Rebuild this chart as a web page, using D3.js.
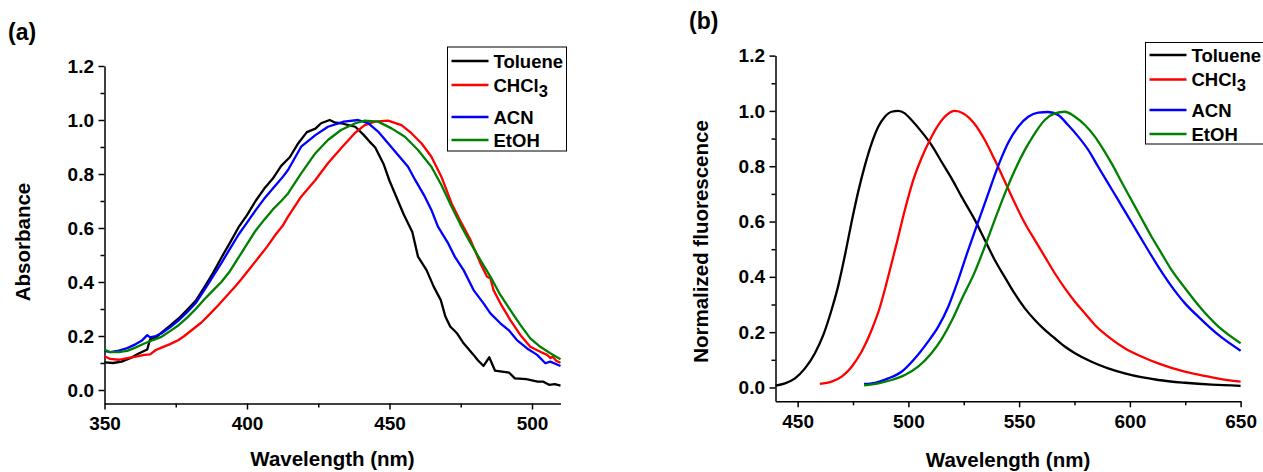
<!DOCTYPE html>
<html>
<head>
<meta charset="utf-8">
<script src="https://cdn.jsdelivr.net/npm/d3@7"></script>
<style>
  body { margin: 0; background: #fff; }
  svg { display: block; font-family: Arial, "Liberation Sans", sans-serif; font-weight: bold; }
  .axis path, .axis line { stroke: #000; stroke-width: 1.5; }
  .axis text { font-size: 19px; font-weight: bold; fill: #000; font-family: Arial, "Liberation Sans", sans-serif; }
</style>
</head>
<body>
<svg id="chart" width="1263" height="472"></svg>
<script>
// series names + colours (same for both panels)
const solvents = ["Toluene", "CHCl3", "ACN", "EtOH"];
const colours = ["#000000", "#ff0000", "#0000ff", "#008000"];

// (a) absorbance, [wavelength nm, absorbance]
const absToluene = [[350,0.102],[353,0.100],[356,0.105],[359,0.118],[362,0.135],[365,0.150],[366,0.188],[368,0.195],[370,0.212],[373,0.238],[376,0.265],[379,0.297],[382,0.330],[385,0.380],[388,0.432],[391,0.490],[394,0.545],[397,0.602],[400,0.648],[403,0.700],[406,0.745],[409,0.782],[412,0.830],[415,0.862],[418,0.914],[421,0.955],[424,0.968],[426,0.988],[429,1.000],[431,0.990],[433,0.988],[436,0.980],[438,0.975],[441,0.944],[443,0.920],[445,0.898],[448,0.835],[450,0.775],[452,0.725],[455,0.650],[458,0.585],[460,0.494],[463,0.444],[465.5,0.383],[468,0.333],[469.6,0.272],[471.3,0.235],[473.7,0.210],[476,0.173],[479.5,0.130],[481,0.110],[483,0.089],[485,0.121],[487,0.072],[489.5,0.068],[492,0.064],[494,0.043],[498,0.040],[502,0.031],[504,0.031],[506,0.019],[508,0.022],[510,0.016]];
const absChcl3 = [[350,0.125],[352,0.115],[355,0.112],[358,0.118],[361,0.124],[364,0.130],[366,0.132],[368,0.148],[370,0.157],[373,0.170],[376,0.185],[378,0.200],[381,0.225],[384,0.250],[387,0.282],[390,0.315],[393,0.350],[396,0.385],[398,0.410],[401,0.450],[404,0.490],[407,0.530],[410,0.575],[412.5,0.608],[414.4,0.642],[419,0.716],[424,0.778],[428.4,0.840],[433,0.895],[437.8,0.951],[441.3,0.981],[444.8,0.994],[449.5,0.998],[454.2,0.981],[457.7,0.951],[461.2,0.914],[464.7,0.864],[468.2,0.790],[471.8,0.691],[475.3,0.617],[478.4,0.556],[481.9,0.469],[484.2,0.420],[485.4,0.414],[486.5,0.370],[488.9,0.321],[492.4,0.259],[495.9,0.204],[499.4,0.160],[502.9,0.142],[505.3,0.130],[506.5,0.118],[507.2,0.124],[508.5,0.108],[510,0.101]];
const absAcn = [[350,0.145],[352,0.140],[355,0.146],[358,0.155],[361,0.170],[363,0.182],[365,0.203],[366,0.195],[368,0.200],[370,0.210],[373,0.232],[376,0.258],[379,0.288],[382,0.322],[385,0.370],[388,0.420],[391,0.470],[394,0.523],[397,0.575],[400,0.620],[403,0.665],[406,0.708],[409,0.745],[412,0.782],[414.4,0.815],[419,0.901],[424,0.944],[428.4,0.975],[434,0.994],[439,1.000],[442.5,0.988],[446,0.957],[449.5,0.914],[453,0.870],[456.5,0.827],[459,0.778],[462.4,0.716],[464.7,0.667],[467,0.605],[470.6,0.543],[472.9,0.494],[476,0.444],[479.5,0.370],[483,0.321],[485.4,0.284],[488.9,0.247],[491.8,0.222],[494.7,0.185],[498.3,0.154],[501.8,0.130],[504.7,0.099],[506.4,0.105],[510,0.089]];
const absEtoh = [[350,0.150],[352,0.140],[355,0.140],[358,0.145],[361,0.158],[364,0.172],[367,0.185],[370,0.197],[373,0.218],[376,0.240],[379,0.268],[382,0.300],[385,0.335],[388,0.368],[391,0.400],[394,0.440],[397,0.490],[400,0.540],[403,0.590],[406,0.630],[409,0.668],[412,0.700],[414.4,0.728],[419,0.802],[424,0.877],[428.4,0.926],[433,0.963],[438,0.988],[441.3,0.998],[446,0.994],[450.7,0.969],[455.4,0.938],[460,0.889],[464.7,0.827],[468.2,0.759],[471.8,0.679],[475.3,0.605],[477.8,0.556],[481.9,0.481],[485.4,0.420],[488.9,0.352],[492.4,0.296],[495.9,0.241],[499.4,0.191],[502.9,0.160],[506.4,0.136],[510,0.114]];

// (b) normalized fluorescence, [wavelength nm, intensity]
const flToluene = [[440,0.007],[444.3,0.015],[448.8,0.033],[453.3,0.069],[457.8,0.124],[461.6,0.190],[465.3,0.280],[468.4,0.370],[471.4,0.480],[474.4,0.600],[477.4,0.710],[480.4,0.804],[483.4,0.883],[486.4,0.943],[489.4,0.979],[492.4,0.997],[495.4,1.000],[498.4,0.991],[501.4,0.967],[505.9,0.925],[510.4,0.877],[514.9,0.817],[519.5,0.756],[524,0.690],[530,0.606],[534.5,0.533],[539,0.461],[543.6,0.398],[548.1,0.338],[552.6,0.286],[557.1,0.244],[561.6,0.208],[566.1,0.178],[570.6,0.148],[575.2,0.124],[582.7,0.093],[590.2,0.069],[597.7,0.051],[605.2,0.037],[612.8,0.027],[624.8,0.017],[637,0.010],[650,0.006]];
const flChcl3 = [[460,0.013],[465.3,0.021],[469.9,0.039],[474.4,0.075],[478.9,0.130],[483.4,0.208],[487.2,0.292],[490.9,0.401],[494.7,0.521],[498.4,0.642],[502.2,0.750],[505.9,0.829],[509.7,0.895],[513.5,0.949],[517.2,0.985],[521,1.000],[524.8,0.991],[530,0.952],[534.5,0.895],[539,0.823],[543.6,0.744],[548.1,0.666],[552.6,0.594],[557.1,0.533],[561.6,0.473],[566.1,0.413],[570.6,0.359],[575.2,0.310],[579.7,0.268],[584.2,0.226],[590.2,0.184],[597.7,0.142],[605.2,0.112],[612.8,0.087],[624.8,0.057],[632,0.045],[640,0.032],[650,0.021]];
const flAcn = [[480,0.013],[484.9,0.017],[490.9,0.033],[496.9,0.057],[502.9,0.105],[508.9,0.166],[513.5,0.220],[518,0.292],[522.5,0.389],[527,0.497],[530,0.565],[533,0.632],[536,0.700],[539,0.768],[542,0.830],[545,0.884],[549.6,0.943],[554.1,0.979],[558.6,0.994],[563.1,0.996],[567.6,0.985],[572.1,0.949],[576.7,0.907],[581.2,0.859],[585.7,0.798],[590.2,0.738],[594.7,0.678],[599.2,0.618],[603.7,0.557],[608.2,0.497],[612.8,0.437],[617.3,0.383],[621.8,0.334],[624.8,0.305],[631.7,0.250],[640,0.190],[650,0.133]];
const flEtoh = [[480,0.008],[486.4,0.015],[492.4,0.027],[498.4,0.045],[504.4,0.075],[510.4,0.124],[515,0.175],[519.5,0.240],[524,0.318],[530,0.418],[534.5,0.509],[539,0.606],[543.6,0.702],[548.1,0.786],[552.6,0.859],[557.1,0.919],[561.6,0.967],[566.1,0.991],[570.6,0.997],[575.2,0.979],[579.7,0.949],[584.2,0.907],[587.2,0.871],[591.7,0.811],[596.2,0.744],[600.7,0.678],[605.2,0.612],[609.8,0.545],[614.3,0.485],[618.8,0.425],[624.8,0.360],[631.7,0.290],[640,0.220],[650,0.160]];

// tick values
const yTicks = [0, 0.2, 0.4, 0.6, 0.8, 1.0, 1.2];
const yMinor = [0.1, 0.3, 0.5, 0.7, 0.9, 1.1];
const xTicksA = [350, 400, 450, 500];
const xMinorA = [375, 425, 475];
const xTicksB = [450, 500, 550, 600, 650];
const xMinorB = [475, 525, 575, 625];

const svg = d3.select("#chart");

const renderPanel = (p) => {
  const xScale = d3.scaleLinear().domain(p.xDomain).range([p.left, p.right]);
  const yScale = d3.scaleLinear().domain([-0.05, 1.2]).range([p.bottom, p.top]);

  const g = svg.append("g");

  // minor ticks first (no labels)
  g.append("g").attr("class", "axis").attr("transform", `translate(${p.left},0)`)
    .call(d3.axisLeft(yScale).tickValues(yMinor).tickSize(4).tickSizeOuter(0).tickFormat(""))
    .select(".domain").remove();
  g.append("g").attr("class", "axis").attr("transform", `translate(0,${p.bottom})`)
    .call(d3.axisBottom(xScale).tickValues(p.xMinor).tickSize(4).tickSizeOuter(0).tickFormat(""))
    .select(".domain").remove();

  g.append("g").attr("class", "axis").attr("transform", `translate(${p.left},0)`)
    .call(d3.axisLeft(yScale).tickValues(yTicks).tickSize(6).tickSizeOuter(0).tickPadding(4.5).tickFormat(d3.format(".1f")));
  g.append("g").attr("class", "axis").attr("transform", `translate(0,${p.bottom})`)
    .call(d3.axisBottom(xScale).tickValues(p.xTicks).tickSize(6).tickSizeOuter(0).tickPadding(7).tickFormat(d3.format("d")));

  // curves
  const line = d3.line().x((d) => xScale(d[0])).y((d) => yScale(d[1])).curve(p.curve);
  p.series.forEach((s, i) => {
    g.append("path")
      .datum(s)
      .attr("fill", "none")
      .attr("stroke", colours[i])
      .attr("stroke-width", 2.3)
      .attr("stroke-linejoin", "round")
      .attr("d", line);
  });

  // axis titles
  g.append("text")
    .attr("x", (p.left + p.right) / 2)
    .attr("y", p.xTitleY)
    .attr("text-anchor", "middle")
    .style("font-size", "20.5px")
    .text("Wavelength (nm)");
  g.append("text")
    .attr("transform", `translate(${p.yTitleX},${p.yTitleY}) rotate(-90)`)
    .attr("text-anchor", "middle")
    .style("font-size", "20.5px")
    .text(p.yTitle);

  // panel letter
  g.append("text").attr("x", p.letterX).attr("y", p.letterY)
    .style("font-size", "23px").text(p.letter);

  // legend
  const L = p.legend;
  g.append("rect")
    .attr("x", L.x).attr("y", L.y).attr("width", L.w).attr("height", L.h)
    .attr("fill", "#fff").attr("stroke", "#000").attr("stroke-width", 1);
  const items = g.selectAll(".leg").data(solvents).enter().append("g")
    .attr("transform", (d, i) => `translate(0,${L.rows[i]})`);
  items.append("line")
    .attr("x1", L.x + 4).attr("x2", L.x + 41)
    .attr("stroke", (d, i) => colours[i]).attr("stroke-width", 2.3);
  const t = items.append("text").attr("x", L.x + 46).attr("y", 6.5)
    .style("font-size", "18.5px");
  t.each(function (d) {
    const el = d3.select(this);
    if (d === "CHCl3") {
      el.append("tspan").text("CHCl");
      el.append("tspan").attr("dy", 5).style("font-size", "16.5px").text("3");
    } else {
      el.text(d);
    }
  });
};

renderPanel({
  left: 104.5, right: 560.5, top: 66, bottom: 403.5,
  xDomain: [350, 510], xTicks: xTicksA, xMinor: xMinorA,
  series: [absToluene, absChcl3, absAcn, absEtoh],
  curve: d3.curveLinear,
  yTitle: "Absorbance", yTitleX: 30, yTitleY: 242, xTitleY: 466,
  letter: "(a)", letterX: 8, letterY: 40,
  legend: { x: 447.5, y: 47, w: 119, h: 104, rows: [61, 85, 117, 140] }
});

renderPanel({
  left: 775.5, right: 1240.6, top: 55.6, bottom: 401.3,
  xDomain: [440, 650], xTicks: xTicksB, xMinor: xMinorB,
  series: [flToluene, flChcl3, flAcn, flEtoh],
  curve: d3.curveMonotoneX,
  yTitle: "Normalized fluorescence", yTitleX: 708, yTitleY: 241.5, xTitleY: 467,
  letter: "(b)", letterX: 689, letterY: 28.5,
  legend: { x: 1145.5, y: 42.5, w: 125, h: 101.5, rows: [55, 79.5, 110, 134] }
});
</script>
</body>
</html>
